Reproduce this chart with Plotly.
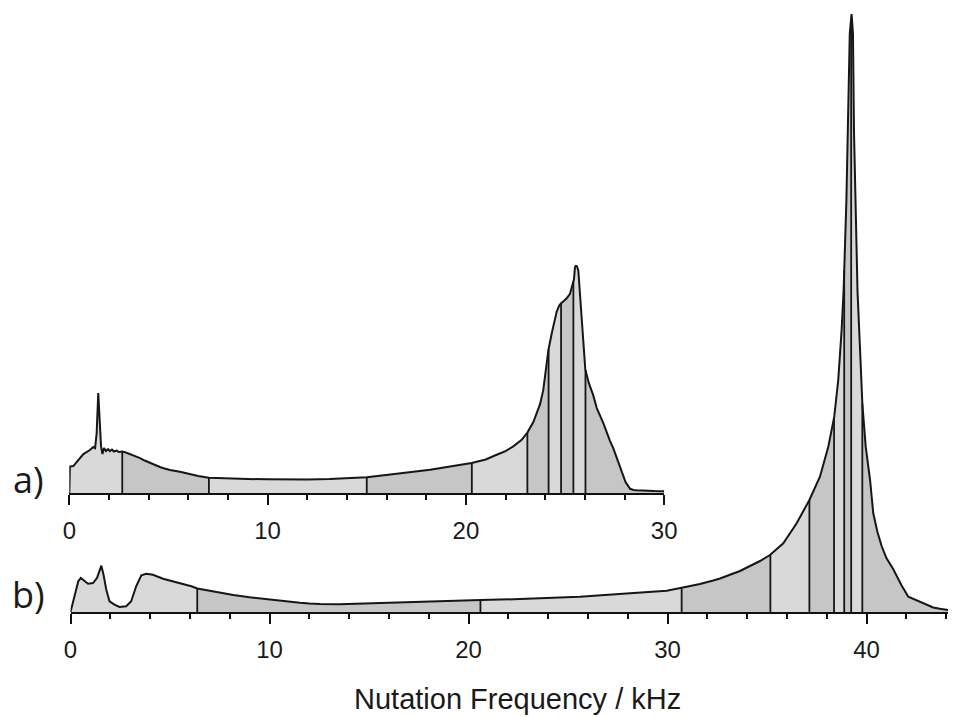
import numpy as np
import plotly.graph_objects as go

# ---------------- data ----------------
# Panel a) : nutation frequency (kHz) and intensity (a.u.)
a_freq = [0.0, 0.03, 0.2, 0.54, 0.71, 1.04, 1.21, 1.3, 1.38, 1.46, 1.55, 1.6, 1.67, 1.75, 1.85,
          1.95, 2.05, 2.15, 2.25, 2.39, 2.5, 2.67, 2.85, 3.06, 3.3, 3.57, 3.8, 4.07, 4.3, 4.57,
          4.8, 5.08, 5.58, 6.0, 6.5, 7.04, 8.0, 9.0, 10.0, 11.0, 12.0, 13.14, 14.0, 15.0, 16.51,
          18.19, 20.29, 21.0, 21.55, 22.0, 22.39, 22.8, 23.1, 23.4, 23.57, 23.74, 23.9, 24.07,
          24.16, 24.33, 24.49, 24.58, 24.7, 24.8, 24.95, 25.08, 25.25, 25.34, 25.45, 25.5, 25.56,
          25.62, 25.67, 25.75, 25.84, 25.93, 26.02, 26.2, 26.42, 26.6, 26.93, 27.27, 27.43, 27.65,
          27.86, 28.05, 28.28, 28.45, 28.61, 29.0, 29.5, 30.0]
a_int = [0, 26.5, 27, 35, 39, 43, 46, 45, 60, 100, 60, 47, 39, 45, 42,
         44, 42, 43.5, 41.5, 42.5, 41, 41.5, 40.5, 39, 37, 35, 32.5, 30, 28, 26,
         24.5, 23, 21.3, 19, 17, 15.3, 14.5, 14, 13.7, 13.5, 13.5, 14, 14.8, 15.7, 19.3,
         23.3, 30, 33.5, 38.3, 42, 46.7, 53, 60.5, 71, 80, 89, 103, 132,
         143, 160, 175, 181.7, 187.5, 190, 192.5, 195, 199.5, 206, 214, 226, 228.3,
         226, 222.5, 200, 172, 147, 124, 110, 98, 85, 70, 52, 45, 33,
         21, 11, 4.2, 3, 2.7, 2.2, 1.9, 1.7]
a_bounds = [0.0, 2.67, 7.04, 15.0, 20.3, 23.1, 24.17, 24.8, 25.42, 26.03, 30.0]

# Panel b)
b_freq = [0.0, 0.39, 0.52, 0.68, 0.88, 1.13, 1.33, 1.55, 1.66, 1.8, 1.96, 2.21, 2.46, 2.8, 3.05,
          3.3, 3.56, 3.81, 4.14, 4.65, 5.15, 5.65, 6.07, 6.37, 6.82, 7.49, 8.18, 9.0, 9.86, 10.7,
          11.53, 12.0, 12.54, 13.5, 14.88, 17.4, 19.93, 20.6, 22.26, 25.6, 28.12, 29.96, 30.71,
          31.63, 32.3, 32.64, 33.64, 34.65, 35.15, 35.82, 36.49, 37.13, 37.66, 38.08, 38.38,
          38.58, 38.75, 38.85, 38.99, 39.07, 39.16, 39.25, 39.32, 39.37, 39.46, 39.55, 39.67,
          39.79, 39.96, 40.18, 40.34, 40.55, 40.76, 41.0, 41.34, 41.75, 42.1, 42.86, 43.35,
          43.69, 44.36, 44.5]
b_int = [0, 30.7, 34, 31.7, 28.3, 29, 34, 46.3, 37.3, 22.3, 10.7, 7.3, 5, 5.7, 10.7,
         25.7, 36.7, 38.3, 37.3, 33.3, 30.7, 28, 25.7, 23.5, 21.7, 19, 17, 14.8, 12.7, 11,
         9.3, 8.5, 7.9, 7.8, 8.7, 9.7, 11.3, 12, 12.7, 15.3, 18.7, 21.3, 24.3,
         28, 31.5, 33.5, 41, 51, 57, 68.7, 88.7, 112, 135.3, 165.3, 195.3,
         232, 282, 322, 412, 482, 578.7, 598, 578.7, 482, 412, 320, 265.3,
         208.7, 165.3, 132, 98.7, 80, 66, 54, 43, 27, 15.3, 8.7, 4.5,
         3.2, 1.3, 1.0]
b_bounds = [0.0, 6.37, 20.6, 30.71, 35.17, 37.13, 38.37, 38.88, 39.23, 39.79, 44.5]

tick_vals = [0, 10, 20, 30, 40]
x_title = "Nutation Frequency / kHz"

LIGHT = "#d9d9d9"
DARK = "#c6c6c6"
LINE = "#161616"

fig = go.Figure()


def add_panel(freq, inten, bounds, xa, ya):
    f = np.asarray(freq, float)
    v = np.asarray(inten, float)
    for i in range(len(bounds) - 1):
        lo, hi = bounds[i], bounds[i + 1]
        m = (f > lo) & (f < hi)
        xs = [lo] + list(f[m]) + [hi]
        ys = [float(np.interp(lo, f, v))] + list(v[m]) + [float(np.interp(hi, f, v))]
        fig.add_trace(go.Scatter(x=xs, y=ys, mode="lines", fill="tozeroy",
                                 fillcolor=LIGHT if i % 2 == 0 else DARK,
                                 line=dict(width=0), xaxis=xa, yaxis=ya,
                                 showlegend=False, hoverinfo="skip"))
    # dividers
    vx, vy = [], []
    for b in bounds[1:-1]:
        vx += [b, b, None]
        vy += [0, float(np.interp(b, f, v)), None]
    fig.add_trace(go.Scatter(x=vx, y=vy, mode="lines", line=dict(color=LINE, width=1.8),
                             xaxis=xa, yaxis=ya, showlegend=False, hoverinfo="skip"))
    # outline
    fig.add_trace(go.Scatter(x=freq, y=inten, mode="lines", line=dict(color=LINE, width=2),
                             xaxis=xa, yaxis=ya, showlegend=False))


add_panel(b_freq, b_int, b_bounds, "x", "y")
add_panel(a_freq, a_int, a_bounds, "x2", "y2")

# The page body has an 8px default margin: map screen pixels to figure paper coords
OFF = 8
W, H = 956 - OFF, 717 - OFF


def px(xp):
    return (xp - OFF) / W


def py(yp):
    return 1 - (yp - OFF) / H


axis_common = dict(
    showline=True, linecolor="#111", linewidth=2, ticks="outside", ticklen=10,
    tickwidth=2, tickcolor="#111", tickvals=tick_vals, showgrid=False, zeroline=False,
    automargin=False,
    tickfont=dict(family="Liberation Sans, Arial, sans-serif", size=24, color="#1a1a1a"),
    minor=dict(dtick=2, tick0=0, ticks="outside", ticklen=5, tickwidth=2, tickcolor="#111",
               showgrid=False),
    ticklabelstandoff=5,
)

fig.update_layout(
    width=W, height=H, margin=dict(l=0, r=0, t=0, b=0, autoexpand=False),
    paper_bgcolor="white", plot_bgcolor="white", showlegend=False,
    xaxis=dict(domain=[px(70.5), 1.0], range=[0, (956 - 70.5) / 19.9], anchor="y",
               **axis_common),
    yaxis=dict(domain=[py(612), py(14)], range=[0, 598], visible=False),
    xaxis2=dict(domain=[px(69.3), px(664.2)], range=[0, 30], anchor="y2", **axis_common),
    yaxis2=dict(domain=[py(493), py(265)], range=[0, 228.3], visible=False),
)

fig.add_annotation(text=x_title, x=px(517.5), y=py(699), xref="paper", yref="paper",
                   showarrow=False, xanchor="center", yanchor="middle",
                   font=dict(family="Liberation Sans, Arial, sans-serif", size=29, color="#1a1a1a"))
fig.add_annotation(text="a)", x=px(28), y=py(479), xref="paper", yref="paper",
                   showarrow=False, xanchor="center", yanchor="middle",
                   font=dict(family="Open Sans, sans-serif", size=36, color="#1a1a1a"))
fig.add_annotation(text="b)", x=px(28), y=py(594), xref="paper", yref="paper",
                   showarrow=False, xanchor="center", yanchor="middle",
                   font=dict(family="Open Sans, sans-serif", size=36, color="#1a1a1a"))

fig.write_html("out.html")
